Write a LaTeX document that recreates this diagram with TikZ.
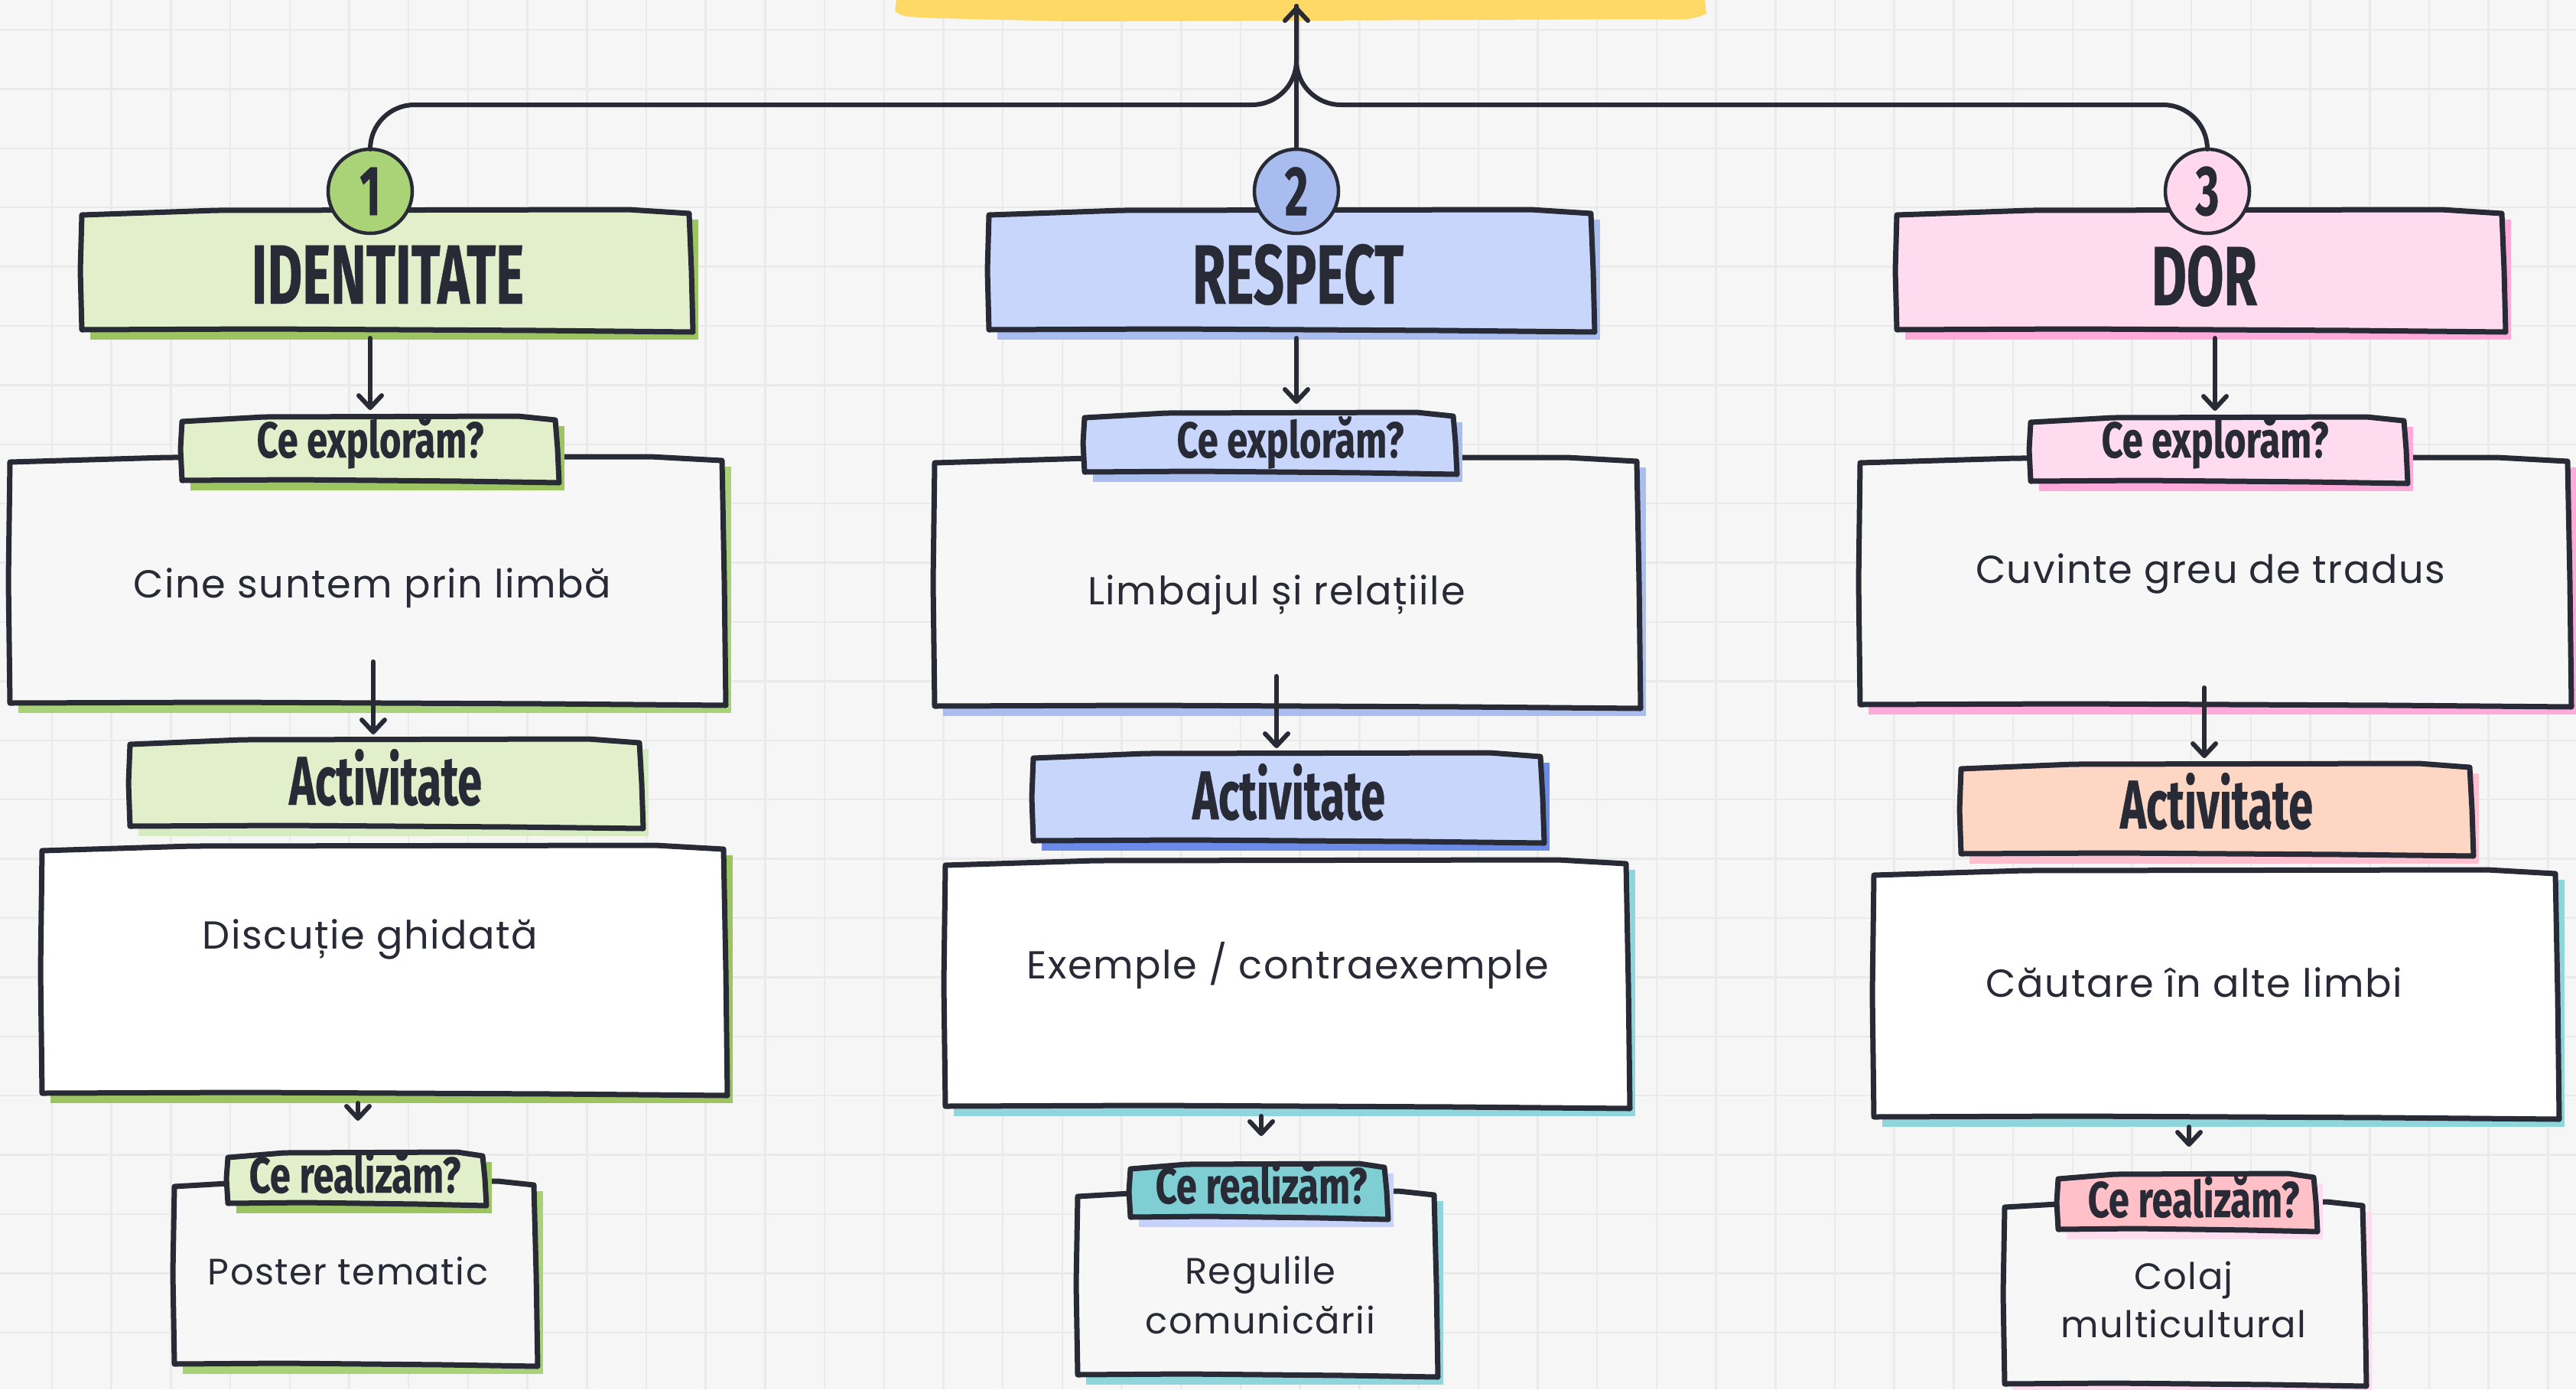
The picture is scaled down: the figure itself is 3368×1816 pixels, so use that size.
\documentclass[tikz,border=0pt]{standalone}
\usepackage{fontspec}
\usetikzlibrary{arrows.meta,calc}
\newfontfamily\handfont[FakeStretch=0.64,FakeBold=0.4]{Fira Sans}
\newfontfamily\tabfont[FakeStretch=0.74,FakeBold=0.3]{Fira Sans}
\newfontfamily\bodyfont[LetterSpace=3]{Poppins}
\definecolor{ink}{HTML}{282A36}
\definecolor{bgc}{HTML}{F6F6F6}
\definecolor{gridc}{HTML}{EAEAEA}
\definecolor{boxbg}{HTML}{F7F7F7}
\definecolor{greenL}{HTML}{E1EFCB}
\definecolor{greenS}{HTML}{9CC562}
\definecolor{greenS2}{HTML}{A8D178}
\definecolor{greenC}{HTML}{AAD277}
\definecolor{greenAS}{HTML}{D6ECC0}
\definecolor{blueL}{HTML}{C8D6FC}
\definecolor{blueS}{HTML}{A9BDEE}
\definecolor{blueC}{HTML}{A9BCEF}
\definecolor{blueAS}{HTML}{6A8CE8}
\definecolor{blueRS}{HTML}{C6D1FC}
\definecolor{pinkL}{HTML}{FFDBF0}
\definecolor{pinkS}{HTML}{FFAADB}
\definecolor{pinkC}{HTML}{FFD8EE}
\definecolor{pinkRS}{HTML}{FFDCF0}
\definecolor{peach}{HTML}{FDD6C4}
\definecolor{peachS}{HTML}{FFBFCF}
\definecolor{rose}{HTML}{FFC0C8}
\definecolor{teal}{HTML}{7FCED3}
\definecolor{tealS}{HTML}{8FD6DC}
\definecolor{marker}{HTML}{FFD966}
\pgfdeclarelayer{grid}
\pgfdeclarelayer{boxes}
\pgfsetlayers{grid,boxes,main}
\newcommand\skbox[7]{%
  \node[inner sep=0pt,outer sep=0pt,minimum width={(#4)-(#2)},minimum height={(#5)-(#3)}] (#1) at ({((#2)+(#4))/2},{((#3)+(#5))/2}) {};
  \begin{pgfonlayer}{boxes}
  \fill[#7] (#2+11,#3+12) rectangle (#4+12,#5+12);
  \filldraw[fill=#6,draw=ink,line width=7pt,line join=round]
    (#2,#3+6) -- ({#2+0.22*(#4-#2)},#3) -- ({#4-0.1*(#4-#2)},#3-1) -- (#4,#3+4)
    -- (#4+3,{(#3+#5)/2}) -- (#4+5,#5+2) -- ({#4-0.25*(#4-#2)},#5)
    -- ({#2+0.3*(#4-#2)},#5-2) -- (#2,#5-1) -- (#2-2,{(#3+#5)/2}) -- cycle;
  \end{pgfonlayer}}
\tikzset{
  conn/.style={draw=ink,line width=6pt,line cap=round,line join=round},
  arr/.style={conn,-{Straight Barb[length=16pt,width=30pt,line cap=round,line join=round]}},
  numcirc/.style={circle,minimum size=110pt,inner sep=0pt,draw=ink,line width=4.5pt,text=ink,font=\handfont\bfseries\fontsize{92}{92}\selectfont},
  titletxt/.style={anchor=base,text=ink,inner sep=0pt,font=\handfont\bfseries\fontsize{110}{110}\selectfont},
  tabtxt/.style={anchor=base,text=ink,inner sep=0pt,font=\tabfont\bfseries\fontsize{66}{66}\selectfont},
  acttxt/.style={anchor=base,text=ink,inner sep=0pt,font=\handfont\bfseries\fontsize{90}{90}\selectfont},
  bodytxt/.style={anchor=base,text=ink,inner sep=0pt,font=\bodyfont\fontsize{51}{60}\selectfont},
  restxt/.style={anchor=base,text=ink,inner sep=0pt,font=\bodyfont\fontsize{48}{60}\selectfont},
}
\begin{document}
\begin{tikzpicture}[x=1pt,y=-1pt]
\useasboundingbox (0,0) rectangle (3368,1816);
\begin{pgfonlayer}{grid}
\fill[bgc] (0,0) rectangle (3368,1816);
\foreach \k in {-1,...,42} \draw[gridc,line width=2.5pt] ({68+77.7*\k},0) -- ({68+77.7*\k},1816);
\foreach \k in {-1,...,23} \draw[gridc,line width=2.5pt] (0,{39+77.4*\k}) -- (3368,{39+77.4*\k});
\fill[marker] (1172,0) -- (2229,0) -- (2231,18) .. controls (2210,26) .. (2150,25) -- (1700,27) -- (1400,28) -- (1230,24) .. controls (1180,22) .. (1170,14) -- cycle;
\end{pgfonlayer}

% ---------- column 1 ----------
\skbox{t1}{107}{275}{901}{432}{greenL}{greenS}
\node[titletxt] (t1l) at (507,397) {IDENTITATE};
\node[numcirc,fill=greenC] (c1) at (484,250) {1};
\skbox{e1}{13}{598}{944}{920}{boxbg}{greenS2}
\skbox{x1}{238}{545}{726}{629}{greenL}{greenS}
\node[tabtxt] (x1l) at (484,598) {Ce explorăm?};
\node[bodytxt] (e1l) at (487,781) {Cine suntem prin limbă};
\skbox{a1}{170}{967}{836}{1081}{greenL}{greenAS}
\node[acttxt] (a1l) at (504,1052) {Activitate};
\skbox{b1}{55}{1106}{946}{1430}{white}{greenS}
\node[bodytxt] (b1l) at (484,1240) {Discuție ghidată};
\skbox{r1}{228}{1545}{698}{1784}{boxbg}{greenS2}
\skbox{q1}{298}{1507}{631}{1574}{greenL}{greenS}
\node[tabtxt] (q1l) at (464,1559) {Ce realizăm?};
\node[restxt] (r1l) at (455,1679) {Poster tematic};

% ---------- column 2 ----------
\skbox{t2}{1293}{275}{2080}{432}{blueL}{blueS}
\node[titletxt] (t2l) at (1697,397) {RESPECT};
\node[numcirc,fill=blueC] (c2) at (1695,250) {2};
\skbox{e2}{1222}{599}{2140}{924}{boxbg}{blueS}
\skbox{x2}{1418}{540}{1900}{618}{blueL}{blueS}
\node[tabtxt] (x2l) at (1687,598) {Ce explorăm?};
\node[bodytxt] (e2l) at (1669,790) {Limbajul și relațiile};
\skbox{a2}{1351}{985}{2014}{1100}{blueL}{blueAS}
\node[acttxt] (a2l) at (1685,1071) {Activitate};
\skbox{b2}{1236}{1125}{2126}{1447}{white}{tealS}
\node[bodytxt] (b2l) at (1684,1279) {Exemple / contraexemple};
\skbox{r2}{1409}{1558}{1875}{1798}{boxbg}{tealS}
\skbox{q2}{1478}{1522}{1810}{1592}{teal}{blueRS}
\node[tabtxt] (q2l) at (1649,1573) {Ce realizăm?};
\node[restxt] (r2l) at (1648,1678) {Regulile};
\node[restxt] (r2m) at (1648,1743) {comunicării};

% ---------- column 3 ----------
\skbox{t3}{2480}{275}{3271}{432}{pinkL}{pinkS}
\node[titletxt] (t3l) at (2882,399) {DOR};
\node[numcirc,fill=pinkC] (c3) at (2886,250) {3};
\skbox{e3}{2432}{599}{3357}{922}{boxbg}{pinkS}
\skbox{x3}{2655}{546}{3143}{630}{pinkL}{pinkS}
\node[tabtxt] (x3l) at (2896,598) {Ce explorăm?};
\node[bodytxt] (e3l) at (2890,762) {Cuvinte greu de tradus};
\skbox{a3}{2564}{999}{3229}{1117}{peach}{peachS}
\node[acttxt] (a3l) at (2898,1083) {Activitate};
\skbox{b3}{2450}{1138}{3341}{1461}{white}{tealS}
\node[bodytxt] (b3l) at (2869,1303) {Căutare în alte limbi};
\skbox{r3}{2621}{1572}{3089}{1810}{boxbg}{pinkRS}
\skbox{q3}{2691}{1535}{3025}{1608}{rose}{pinkRS}
\node[tabtxt] (q3l) at (2868,1591) {Ce realizăm?};
\node[restxt] (r3l) at (2855,1685) {Colaj};
\node[restxt] (r3m) at (2855,1748) {multicultural};

% ---------- connectors ----------
\coordinate (top) at (1695,8);
\coordinate (hub) at (1695,137);
\draw[conn,rounded corners=58pt] (c1.north) |- (hub) -- (top);
\draw[conn,rounded corners=58pt] (c3.north) |- (hub) -- (top);
\draw[arr] (c2.north) -- (top);

\draw[arr] ([yshift=-10pt]t1.south -| c1) -- ([yshift=9pt]x1.north -| c1);
\draw[arr] ([yshift=-10pt]t2.south -| c2) -- ([yshift=12pt]x2.north -| c2);
\coordinate (k3) at (2896,0);
\draw[arr] ([yshift=-10pt]t3.south -| k3) -- ([yshift=9pt]x3.north -| k3);

\coordinate (k1) at (488,865);
\draw[arr] (k1) -- ([yshift=7pt]a1.north -| k1);
\coordinate (k2) at (1669,884);
\draw[arr] (k2) -- ([yshift=7pt]a2.north -| k2);
\coordinate (k4) at (2882,899);
\draw[arr] (k4) -- ([yshift=8pt]a3.north -| k4);

\coordinate (s1) at (468,1465);
\draw[arr] ([yshift=-12pt]b1.south -| s1) -- (s1);
\coordinate (s2) at (1649,1485);
\draw[arr] ([yshift=-12pt]b2.south -| s2) -- (s2);
\coordinate (s3) at (2862,1499);
\draw[arr] ([yshift=-12pt]b3.south -| s3) -- (s3);
\end{tikzpicture}
\end{document}
